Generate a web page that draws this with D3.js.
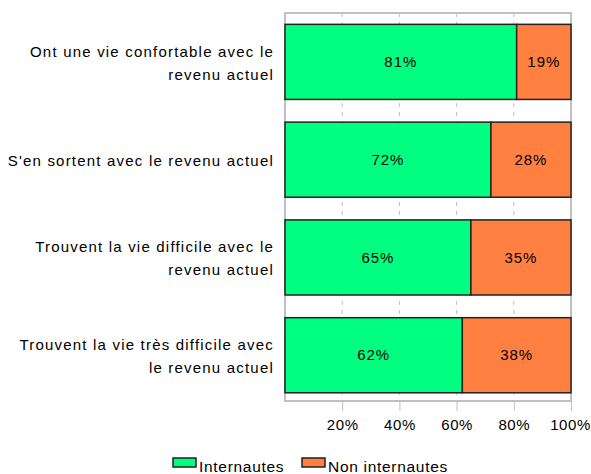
<!DOCTYPE html>
<html>
<head>
<meta charset="utf-8">
<script src="https://cdn.jsdelivr.net/npm/d3@7"></script>
<style>
  body { margin: 0; background: #fff; }
  text { font-family: Arial, "Liberation Sans", sans-serif; fill: #000; letter-spacing: 1px; }
</style>
</head>
<body>
<svg id="chart" width="591" height="474"></svg>
<script>
// data
const categories = [
    ['Ont une vie confortable avec le', 'revenu actuel'],
    ["S'en sortent avec le revenu actuel"],
    ['Trouvent la vie difficile avec le', 'revenu actuel'],
    ['Trouvent la vie très difficile avec', 'le revenu actuel']
];
const internautes = [81, 72, 65, 62];
const nonInternautes = [19, 28, 35, 38];
const tickValues = [20, 40, 60, 80, 100];
const seriesNames = ['Internautes', 'Non internautes'];
const seriesColors = ['#00ff80', '#ff8040'];

let margin = { left: 285, right: 20, top: 13, bottom: 73 };
let width = 591, height = 474;

let svg = d3.select('#chart');

let xScale = d3.scaleLinear()
    .domain([0, 100])
    .range([margin.left, width - margin.right]);

let yScale = d3.scaleBand()
    .domain(d3.range(categories.length))
    .range([margin.top, height - margin.bottom])
    .paddingInner(0.232)
    .paddingOuter(0.1)
    .align(0.58);

let plotBottom = height - margin.bottom;

// dashed grid lines
svg.append('g').selectAll('line')
    .data(tickValues.slice(0, -1))
    .enter()
    .append('line')
    .attr('x1', d => xScale(d)).attr('x2', d => xScale(d))
    .attr('y1', margin.top).attr('y2', plotBottom)
    .attr('stroke', '#c0c0c0')
    .attr('stroke-dasharray', '4,5');

// bottom ticks + labels
let xAxis = d3.axisBottom(xScale)
    .tickValues(tickValues)
    .tickSize(10)
    .tickPadding(8)
    .tickFormat(d => d + '%');

let axisG = svg.append('g')
    .attr('transform', 'translate(0,' + plotBottom + ')')
    .call(xAxis);
axisG.select('.domain').remove();
axisG.selectAll('.tick line').attr('stroke', '#c0c0c0');
axisG.selectAll('.tick text')
    .style('font-size', '15px')
    .style('font-family', 'Arial, "Liberation Sans", sans-serif')
    .style('letter-spacing', '0.6px');
// keep the last label inside the picture
axisG.selectAll('.tick text').filter(d => d === 100).attr('dx', '-1px');

// plot border
svg.append('rect')
    .attr('x', xScale(0))
    .attr('y', margin.top)
    .attr('width', xScale(100) - xScale(0))
    .attr('height', plotBottom - margin.top)
    .attr('fill', 'none')
    .attr('stroke', '#c0c0c0')
    .attr('stroke-width', 2);

// stacked bars
let stacked = categories.map((c, i) => [
    { x0: 0, x1: internautes[i], v: internautes[i], s: 0 },
    { x0: internautes[i], x1: internautes[i] + nonInternautes[i], v: nonInternautes[i], s: 1 }
]);

let rows = svg.append('g').selectAll('g')
    .data(stacked)
    .enter()
    .append('g')
    .attr('transform', (d, i) => 'translate(0,' + yScale(i) + ')');

rows.selectAll('rect')
    .data(d => d)
    .enter()
    .append('rect')
    .attr('x', d => xScale(d.x0))
    .attr('width', d => xScale(d.x1) - xScale(d.x0))
    .attr('y', 0)
    .attr('height', yScale.bandwidth())
    .attr('fill', d => seriesColors[d.s])
    .attr('stroke', '#222')
    .attr('stroke-width', 1.5);

rows.selectAll('text')
    .data(d => d)
    .enter()
    .append('text')
    .attr('x', d => (xScale(d.x0) + xScale(d.x1)) / 2)
    .attr('y', yScale.bandwidth() / 2)
    .attr('dy', '0.35em')
    .attr('text-anchor', 'middle')
    .style('font-size', '15px')
    .text(d => d.v + '%');

// category labels
let catLabels = svg.append('g').selectAll('text')
    .data(categories)
    .enter()
    .append('text')
    .attr('text-anchor', 'end')
    .style('font-size', '15px')
    .style('letter-spacing', '1.2px')
    .attr('transform', (d, i) => 'translate(274,' + (yScale(i) + yScale.bandwidth() / 2 + 1) + ')');

catLabels.selectAll('tspan')
    .data(d => d)
    .enter()
    .append('tspan')
    .attr('x', 0)
    .attr('y', (d, j, nodes) => (j - (nodes.length - 1) / 2) * 23)
    .attr('dy', '0.35em')
    .text(d => d);

// legend
let legend = svg.append('g')
    .attr('transform', 'translate(173,458)');
let legendX = [0, 129];
seriesNames.forEach((name, i) => {
    let g = legend.append('g').attr('transform', 'translate(' + legendX[i] + ',0)');
    g.append('rect')
        .attr('x', 0).attr('y', 0)
        .attr('width', 23).attr('height', 9)
        .attr('fill', seriesColors[i])
        .attr('stroke', '#222')
        .attr('stroke-width', 1.5);
    g.append('text')
        .attr('x', 26)
        .attr('y', 9)
        .attr('dy', '0.3em')
        .style('font-size', '15.5px')
        .style('letter-spacing', '0.7px')
        .text(name);
});
</script>
</body>
</html>
